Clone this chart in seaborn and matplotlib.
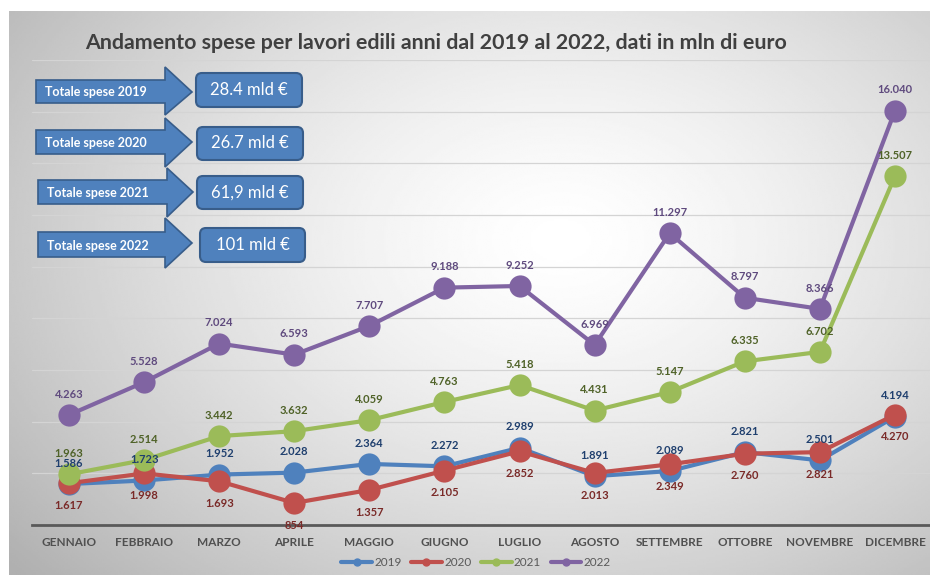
import numpy as np
import pandas as pd
import matplotlib
matplotlib.use('Agg')
import matplotlib.pyplot as plt
import seaborn as sns
from matplotlib.lines import Line2D
from matplotlib.patches import Polygon, FancyBboxPatch

# Dati (mln di euro)
mesi = ['GENNAIO', 'FEBBRAIO', 'MARZO', 'APRILE', 'MAGGIO', 'GIUGNO', 'LUGLIO',
        'AGOSTO', 'SETTEMBRE', 'OTTOBRE', 'NOVEMBRE', 'DICEMBRE']
anni = ['2019', '2020', '2021', '2022']
spese_2019 = [1586, 1723, 1952, 2028, 2364, 2272, 2989, 1891, 2089, 2821, 2501, 4194]
spese_2020 = [1617, 1998, 1693, 854, 1357, 2105, 2852, 2013, 2349, 2760, 2821, 4270]
spese_2021 = [1963, 2514, 3442, 3632, 4059, 4763, 5418, 4431, 5147, 6335, 6702, 13507]
spese_2022 = [4263, 5528, 7024, 6593, 7707, 9188, 9252, 6969, 11297, 8797, 8366, 16040]
totali_etichette = ['Totale spese 2019', 'Totale spese 2020', 'Totale spese 2021', 'Totale spese 2022']
totali_valori = ['28.4 mld €', '26.7 mld €', '61,9 mld €', '101 mld €']

colori = ['#4F81BD', '#C0504D', '#9BBB59', '#8064A2']
colori_etichette = ['#1F3F6E', '#7A2A28', '#4F6228', '#5F4A7E']

df = pd.DataFrame({
    'Mese': mesi * 4,
    'Anno': [a for a in anni for _ in mesi],
    'Spesa': spese_2019 + spese_2020 + spese_2021 + spese_2022,
})

sns.set_style('white')
plt.rcParams['font.family'] = ['Lato', 'DejaVu Sans']

fig = plt.figure(figsize=(9.3, 5.75), dpi=100)
W, H = 930, 575

# Sfondo sfumato
bg = fig.add_axes([9 / W, 0, 1 - 9 / W, 1 - 11 / H])
yy, xx = np.mgrid[11:575:300j, 9:930:400j]
r = np.sqrt(((xx - 560) / 600) ** 2 + ((yy - 240) / 420) ** 2)
bg.imshow(1 - 0.24 * np.clip(r, 0, 1.2) ** 1.4, cmap='gray', vmin=0, vmax=1,
          aspect='auto', interpolation='bilinear')
bg.axis('off')

# Grafico principale
ax = fig.add_axes([31.5 / W, 50 / H, (W - 31.5) / W, 465 / H])
ax.set_facecolor('none')
sns.lineplot(data=df, x='Mese', y='Spesa', hue='Anno', palette=colori, marker='o',
             markersize=16, markeredgewidth=0, linewidth=3, sort=False, legend=False, ax=ax)
ax.set_xlim(-0.5, 11.466)
ax.set_ylim(0, 18000)
ax.set_yticks(range(0, 18001, 2000))
ax.yaxis.grid(True, color='#d4d4d4', linewidth=0.9)
ax.set_yticklabels([])
ax.tick_params(axis='y', length=0)
ax.tick_params(axis='x', length=0, pad=9, labelsize=8.5, labelcolor='#505050')
for lab in ax.get_xticklabels():
    lab.set_fontweight('bold')
ax.set_xlabel('')
ax.set_ylabel('')
for s in ['top', 'right', 'left']:
    ax.spines[s].set_visible(False)
ax.spines['bottom'].set_color('#595959')
ax.spines['bottom'].set_linewidth(2)

# Etichette dei dati
serie = [spese_2019, spese_2020, spese_2021, spese_2022]
offset = [15, -16, 15, 15]
for valori, col, off in zip(serie, colori_etichette, offset):
    for i, v in enumerate(valori):
        ax.annotate(f'{v:,}'.replace(',', '.'), (i, v), xytext=(0, off),
                    textcoords='offset points', ha='center', va='center',
                    fontsize=8, fontweight='bold', color=col)

# Titolo
fig.text(436 / W, 1 - 43 / H, 'Andamento spese per lavori edili anni dal 2019 al 2022, dati in mln di euro',
         ha='center', va='center', fontsize=15.4, fontweight='bold', color='#404040')

# Legenda
handles = [Line2D([], [], color=c, linewidth=3, marker='o', markersize=5) for c in colori]
fig.legend(handles, anni, loc='center', bbox_to_anchor=(476 / W, 1 - 563 / H), ncol=4,
           frameon=False, fontsize=8.5, labelcolor='#595959', handlelength=2.6,
           handletextpad=0.2, columnspacing=0.8)

# Frecce e riquadri dei totali
ov = fig.add_axes([0, 0, 1, 1], zorder=5)
ov.set_xlim(0, W)
ov.set_ylim(H, 0)
ov.axis('off')
frecce = [(36, 165, 80, 103, 67, 115, 192, 92),
          (36, 165, 130, 154, 118, 167, 192, 142),
          (38, 167, 180, 204, 168, 217, 193, 192),
          (38, 165, 232, 257, 218, 268, 192, 243)]
riquadri = [(196, 73, 302, 107), (197, 127, 303, 160), (197, 176, 303, 209), (200, 228, 305, 262)]
for (x0, xh, b0, b1, h0, h1, xt, yt), (bx0, by0, bx1, by1), et, val in zip(frecce, riquadri, totali_etichette, totali_valori):
    pts = [(x0, b0), (xh, b0), (xh, h0), (xt, yt), (xh, h1), (xh, b1), (x0, b1)]
    ov.add_patch(Polygon(pts, closed=True, facecolor='#4F81BD', edgecolor='#385D8A', linewidth=1.2))
    ov.text(x0 + 9, (b0 + b1) / 2 + 1, et, ha='left', va='center', fontsize=9,
            fontweight='bold', color='white')
    ov.add_patch(FancyBboxPatch((bx0, by0), bx1 - bx0, by1 - by0,
                                boxstyle='round,pad=0,rounding_size=6',
                                facecolor='#4F81BD', edgecolor='#385D8A', linewidth=1.5))
    ov.text((bx0 + bx1) / 2, (by0 + by1) / 2, val, ha='center', va='center',
            fontsize=12, color='white')

plt.savefig('out.png', dpi=100)
